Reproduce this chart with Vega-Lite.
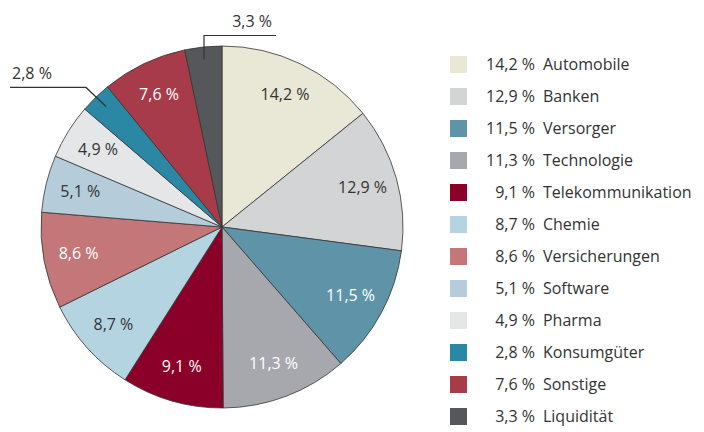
{
  "$schema": "https://vega.github.io/schema/vega-lite/v6.json",
  "width": 362,
  "height": 362,
  "autosize": {"type": "none"},
  "padding": {"left": 41, "top": 46, "right": 301, "bottom": 24},
  "background": "white",
  "config": {
    "view": {"stroke": null},
    "font": "Open Sans",
    "text": {"font": "Open Sans"}
  },
  "datasets": {
    "anteile": [
      {"nr": 1, "Kategorie": "Automobile", "Anteil": 14.2},
      {"nr": 2, "Kategorie": "Banken", "Anteil": 12.9},
      {"nr": 3, "Kategorie": "Versorger", "Anteil": 11.5},
      {"nr": 4, "Kategorie": "Technologie", "Anteil": 11.3},
      {"nr": 5, "Kategorie": "Telekommunikation", "Anteil": 9.1},
      {"nr": 6, "Kategorie": "Chemie", "Anteil": 8.7},
      {"nr": 7, "Kategorie": "Versicherungen", "Anteil": 8.6},
      {"nr": 8, "Kategorie": "Software", "Anteil": 5.1},
      {"nr": 9, "Kategorie": "Pharma", "Anteil": 4.9},
      {"nr": 10, "Kategorie": "Konsumgüter", "Anteil": 2.8},
      {"nr": 11, "Kategorie": "Sonstige", "Anteil": 7.6},
      {"nr": 12, "Kategorie": "Liquidität", "Anteil": 3.3}
    ],
    "leader": [
      {"g": "Liquidität", "i": 1, "px": -0.0994, "py": 0.925},
      {"g": "Liquidität", "i": 2, "px": -0.0994, "py": 1.058},
      {"g": "Liquidität", "i": 3, "px": 0.298, "py": 1.058},
      {"g": "Konsumgüter", "i": 1, "px": -1.171, "py": 0.771},
      {"g": "Konsumgüter", "i": 2, "px": -0.751, "py": 0.771},
      {"g": "Konsumgüter", "i": 3, "px": -0.641, "py": 0.666}
    ],
    "callouts": [
      {"t": "3,3 %", "px": 0.166, "py": 1.135},
      {"t": "2,8 %", "px": -1.05, "py": 0.843}
    ]
  },
  "layer": [
    {
      "data": {"name": "anteile"},
      "transform": [
        {"calculate": "(datum.Anteil < 10 ? '\u200b\u2007' : '') + replace(format(datum.Anteil, '.1f'), '.', ',') + ' %\u2002' + datum.Kategorie", "as": "lab"}
      ],
      "mark": {"type": "arc", "outerRadius": 181, "stroke": "#333333", "strokeWidth": 0.8},
      "encoding": {
        "theta": {"field": "Anteil", "type": "quantitative", "stack": true},
        "order": {"field": "nr", "type": "quantitative"},
        "color": {
          "field": "lab",
          "type": "nominal",
          "sort": {"field": "nr", "op": "min"},
          "scale": {"range": ["#e9e7d5", "#d3d4d6", "#5e93a8", "#a7a8ad", "#8b0029", "#b5d4e1", "#c47779", "#b5ccda", "#e5e6e8", "#2a88a5", "#a83b49", "#55575b"]},
          "legend": {
            "orient": "none",
            "legendX": 409,
            "legendY": 10,
            "title": null,
            "symbolType": "square",
            "symbolSize": 289,
            "symbolStrokeWidth": 0,
            "symbolOpacity": 1,
            "labelFont": "Open Sans",
            "labelFontSize": 16,
            "labelColor": "#333333",
            "rowPadding": 15,
            "labelOffset": 19,
            "labelLimit": 300
          }
        }
      }
    },
    {
      "data": {"name": "anteile"},
      "transform": [
        {"calculate": "replace(format(datum.Anteil, '.1f'), '.', ',') + ' %'", "as": "txt"}
      ],
      "mark": {"type": "text", "radius": 146, "fontSize": 16, "font": "Open Sans"},
      "encoding": {
        "theta": {"field": "Anteil", "type": "quantitative", "stack": true},
        "order": {"field": "nr", "type": "quantitative"},
        "text": {"field": "txt", "type": "nominal"},
        "opacity": {"condition": {"test": "datum.Anteil < 4", "value": 0}, "value": 1},
        "color": {
          "condition": {"test": "indexof(['Versorger','Technologie','Telekommunikation','Versicherungen','Sonstige'], datum.Kategorie) >= 0", "value": "#ffffff"},
          "value": "#333333"
        }
      }
    },
    {
      "data": {"name": "leader"},
      "mark": {"type": "line", "color": "#333333", "strokeWidth": 1.2, "clip": false},
      "encoding": {
        "x": {"field": "px", "type": "quantitative", "scale": {"domain": [-1, 1], "nice": false, "zero": false}, "axis": null},
        "y": {"field": "py", "type": "quantitative", "scale": {"domain": [-1, 1], "nice": false, "zero": false}, "axis": null},
        "detail": {"field": "g", "type": "nominal"},
        "order": {"field": "i", "type": "quantitative"}
      }
    },
    {
      "data": {"name": "callouts"},
      "mark": {"type": "text", "fontSize": 16, "font": "Open Sans", "color": "#333333", "clip": false},
      "encoding": {
        "x": {"field": "px", "type": "quantitative", "scale": {"domain": [-1, 1], "nice": false, "zero": false}, "axis": null},
        "y": {"field": "py", "type": "quantitative", "scale": {"domain": [-1, 1], "nice": false, "zero": false}, "axis": null},
        "text": {"field": "t", "type": "nominal"}
      }
    }
  ]
}
